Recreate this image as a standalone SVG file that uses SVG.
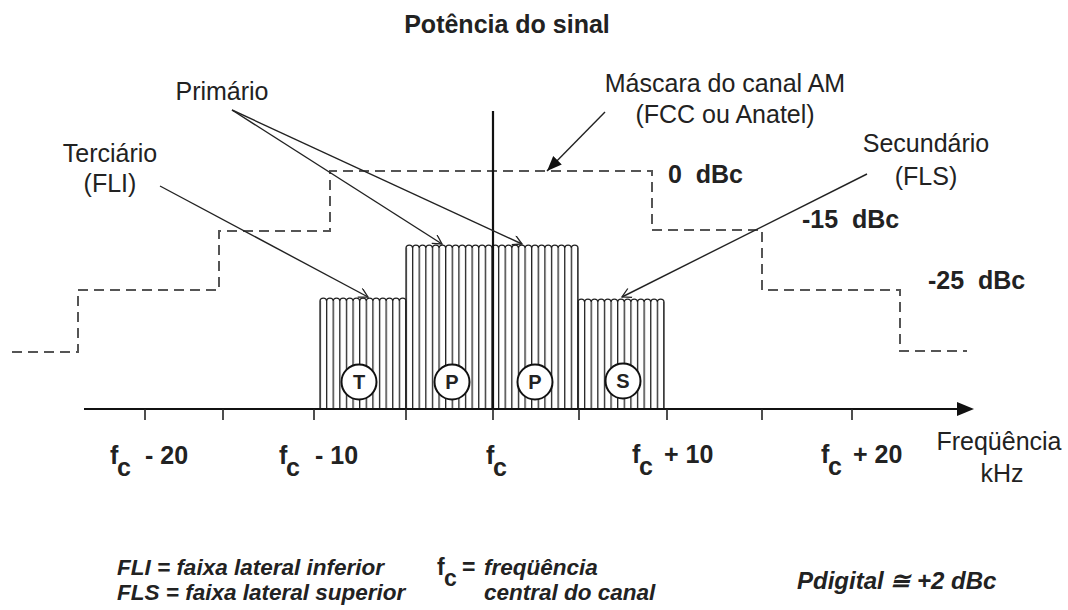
<svg xmlns="http://www.w3.org/2000/svg" width="1068" height="610" viewBox="0 0 1068 610">
<style>
text{font-family:"Liberation Sans",Arial,sans-serif;fill:#222}
.n{font-size:25px}
.b{font-size:25px;font-weight:bold}
.bi{font-size:24px;font-weight:bold;font-style:italic}
.bi2{font-size:22.5px;font-weight:bold;font-style:italic}
.bu{font-size:23px;font-weight:bold}
.m{text-anchor:middle}
.mask{fill:none;stroke:#555;stroke-width:2;stroke-dasharray:10 6}
.ax{stroke:#111;stroke-width:2.2;fill:none}
.tick{stroke:#222;stroke-width:1.6}
.bar{fill:none;stroke:#222;stroke-width:1.3}
.ld{stroke:#222;stroke-width:1.4;fill:none}
.circ{fill:#fff;stroke:#111;stroke-width:2}
.cl{font-size:20px;font-weight:bold;text-anchor:middle}
</style>
<defs>
<pattern id="stripes" patternUnits="userSpaceOnUse" x="319.35" y="0" width="6.6154" height="20">
<rect x="0" y="0" width="1.3" height="20" fill="#222"/>
</pattern>
<marker id="open" markerUnits="userSpaceOnUse" markerWidth="12" markerHeight="12" refX="10" refY="5" orient="auto">
<path d="M1,0 L10,5 L1,10" fill="none" stroke="#222" stroke-width="1.3"/>
</marker>
<marker id="solid" markerUnits="userSpaceOnUse" markerWidth="16" markerHeight="14" refX="15" refY="6" orient="auto">
<path d="M0,0 L15,6 L0,12 Z" fill="#111"/>
</marker>
</defs>
<rect width="1068" height="610" fill="#fff"/>

<g id="title"><text class="b m" x="507" y="33">Potência do sinal</text></g>

<g id="mask">
<path class="mask" d="M12,352 H78 V290 H219 V231 H330 V171 H652 V230 H762 V290 H900 V351 H967"/>
</g>

<g id="bar-T">
<rect x="320" y="301" width="86" height="108" fill="url(#stripes)"/>
<path class="bar" d="M320,409 V301 a3.31,3 0 0 1 6.6154,0 a3.31,3 0 0 1 6.6154,0 a3.31,3 0 0 1 6.6154,0 a3.31,3 0 0 1 6.6154,0 a3.31,3 0 0 1 6.6154,0 a3.31,3 0 0 1 6.6154,0 a3.31,3 0 0 1 6.6154,0 a3.31,3 0 0 1 6.6154,0 a3.31,3 0 0 1 6.6154,0 a3.31,3 0 0 1 6.6154,0 a3.31,3 0 0 1 6.6154,0 a3.31,3 0 0 1 6.6154,0 a3.31,3 0 0 1 6.6154,0 V409"/>
</g>
<g id="bar-P">
<rect x="406" y="248" width="172" height="161" fill="url(#stripes)"/>
<path class="bar" d="M406,409 V248 a3.31,3 0 0 1 6.6154,0 a3.31,3 0 0 1 6.6154,0 a3.31,3 0 0 1 6.6154,0 a3.31,3 0 0 1 6.6154,0 a3.31,3 0 0 1 6.6154,0 a3.31,3 0 0 1 6.6154,0 a3.31,3 0 0 1 6.6154,0 a3.31,3 0 0 1 6.6154,0 a3.31,3 0 0 1 6.6154,0 a3.31,3 0 0 1 6.6154,0 a3.31,3 0 0 1 6.6154,0 a3.31,3 0 0 1 6.6154,0 a3.31,3 0 0 1 6.6154,0 a3.31,3 0 0 1 6.6154,0 a3.31,3 0 0 1 6.6154,0 a3.31,3 0 0 1 6.6154,0 a3.31,3 0 0 1 6.6154,0 a3.31,3 0 0 1 6.6154,0 a3.31,3 0 0 1 6.6154,0 a3.31,3 0 0 1 6.6154,0 a3.31,3 0 0 1 6.6154,0 a3.31,3 0 0 1 6.6154,0 a3.31,3 0 0 1 6.6154,0 a3.31,3 0 0 1 6.6154,0 a3.31,3 0 0 1 6.6154,0 a3.31,3 0 0 1 6.6154,0 V409"/>
</g>
<g id="bar-S">
<rect x="578" y="302" width="86" height="107" fill="url(#stripes)"/>
<path class="bar" d="M578,409 V302 a3.31,3 0 0 1 6.6154,0 a3.31,3 0 0 1 6.6154,0 a3.31,3 0 0 1 6.6154,0 a3.31,3 0 0 1 6.6154,0 a3.31,3 0 0 1 6.6154,0 a3.31,3 0 0 1 6.6154,0 a3.31,3 0 0 1 6.6154,0 a3.31,3 0 0 1 6.6154,0 a3.31,3 0 0 1 6.6154,0 a3.31,3 0 0 1 6.6154,0 a3.31,3 0 0 1 6.6154,0 a3.31,3 0 0 1 6.6154,0 a3.31,3 0 0 1 6.6154,0 V409"/>
</g>

<g id="axes">
<line class="ax" x1="493" y1="111" x2="493" y2="410"/>
<line class="ax" x1="84" y1="409" x2="960" y2="409"/>
<path d="M957,402 L974,409 L957,416 Z" fill="#111"/>
<g class="tick">
<line x1="145" y1="409" x2="145" y2="420"/>
<line x1="223" y1="409" x2="223" y2="420"/>
<line x1="314" y1="409" x2="314" y2="420"/>
<line x1="406" y1="409" x2="406" y2="420"/>
<line x1="493" y1="409" x2="493" y2="420"/>
<line x1="579" y1="409" x2="579" y2="420"/>
<line x1="667" y1="409" x2="667" y2="420"/>
<line x1="762" y1="409" x2="762" y2="420"/>
<line x1="852" y1="409" x2="852" y2="420"/>
</g>
</g>

<g id="circle-T"><circle class="circ" cx="359" cy="382" r="17.5"/><text class="cl" x="359" y="389">T</text></g>
<g id="circle-P1"><circle class="circ" cx="452" cy="382" r="17.5"/><text class="cl" x="452" y="389">P</text></g>
<g id="circle-P2"><circle class="circ" cx="535" cy="382" r="17.5"/><text class="cl" x="535" y="389">P</text></g>
<g id="circle-S"><circle class="circ" cx="623" cy="381" r="17.5"/><text class="cl" x="623" y="388">S</text></g>

<g id="connectors">
<line class="ld" x1="232" y1="110" x2="442" y2="244" marker-end="url(#open)"/>
<line class="ld" x1="232" y1="110" x2="522" y2="244" marker-end="url(#open)"/>
<line class="ld" x1="160" y1="186" x2="368" y2="297" marker-end="url(#open)"/>
<line class="ld" x1="867" y1="174" x2="622" y2="297" marker-end="url(#open)"/>
<line class="ld" x1="605" y1="112" x2="547" y2="171" marker-end="url(#solid)"/>
</g>

<g id="label-primario"><text class="n m" x="222" y="100">Primário</text></g>
<g id="label-mascara">
<text class="n m" x="725" y="92">Máscara do canal AM</text>
<text class="n m" x="725" y="123">(FCC ou Anatel)</text>
</g>
<g id="label-terciario">
<text class="n m" x="110" y="162">Terciário</text>
<text class="n m" x="110" y="192">(FLI)</text>
</g>
<g id="label-secundario">
<text class="n m" x="926" y="152">Secundário</text>
<text class="n m" x="926" y="185">(FLS)</text>
</g>
<g id="levels">
<text class="b" x="668" y="183" xml:space="preserve">0  dBc</text>
<text class="b" x="802" y="228" xml:space="preserve">-15  dBc</text>
<text class="b" x="928" y="289" xml:space="preserve">-25  dBc</text>
</g>

<g id="axis-labels">
<text class="b" x="110" y="464">f<tspan x="117" dy="12">c</tspan><tspan x="145" dy="-12">- 20</tspan></text>
<text class="b" x="279" y="464">f<tspan x="286" dy="12">c</tspan><tspan x="315" dy="-12">- 10</tspan></text>
<text class="b" x="486" y="464">f<tspan x="493" dy="12">c</tspan></text>
<text class="b" x="632" y="463">f<tspan x="639" dy="12">c</tspan><tspan x="664" dy="-12">+ 10</tspan></text>
<text class="b" x="821" y="463">f<tspan x="828" dy="12">c</tspan><tspan x="853" dy="-12">+ 20</tspan></text>
<text class="n m" x="999" y="450">Freqüência</text>
<text class="n m" x="1002" y="482">kHz</text>
</g>

<g id="legend">
<text class="bi2" x="117" y="575">FLI = faixa lateral inferior</text>
<text class="bi2" x="117" y="600">FLS = faixa lateral superior</text>
<text class="bu" x="437" y="575">f<tspan x="444" dy="11">c</tspan><tspan x="462" dy="-11">=</tspan></text>
<text class="bi2" x="484" y="575">freqüência</text>
<text class="bi2" x="484" y="600">central do canal</text>
<text class="bi" x="797" y="589">Pdigital ≅ +2 dBc</text>
</g>
</svg>
